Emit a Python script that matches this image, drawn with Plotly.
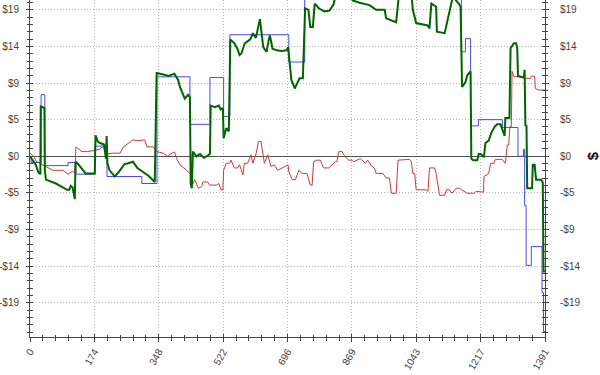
import plotly.graph_objects as go

# ---------------- data ----------------
x_max = 1391
x_tick_labels = ["0", "174", "348", "522", "696", "869", "1043", "1217", "1391"]
y_tick_values = [-18.8, -14.1, -9.4, -4.7, 0, 4.7, 9.4, 14.1, 18.8]
y_tick_labels = ["-$19", "-$14", "-$9", "-$5", "$0", "$5", "$9", "$14", "$19"]

# blue: step series (value holds until next x)
blue_x = [0, 3, 30, 40, 103, 124, 175, 208, 302, 343, 432, 486, 523, 540, 699, 742,
          1165, 1176, 1190, 1211, 1276, 1318, 1333, 1336, 1340, 1354, 1383, 1387, 1391]
blue_y = [0.0, -0.8, 7.9, -1.2, -0.8, -2.3, 1.3, -2.6, -3.5, 10.2, 4.1, 10.1, 5.1, 15.6, 12.1, 23.0,
          13.4, 15.1, 3.9, 4.7, 3.7, 0.0, 0.9, -6.3, -14.0, -11.6, -17.5, -22.5, -22.5]

green_x = [0, 8, 16, 22, 25, 28, 29, 39, 40, 43, 55, 70, 85, 100, 106, 110, 115, 119, 121, 123,
           130, 140, 150, 175, 177, 183, 189, 200, 205, 207, 209, 215, 229, 240, 255, 265, 278,
           290, 305, 320, 337, 342, 360, 375, 390, 400, 405, 415, 418, 427, 432, 434, 437, 440,
           450, 459, 470, 480, 486, 488, 500, 510, 515, 521, 523, 530, 537, 541, 552, 560, 566,
           571, 580, 595, 602, 610, 617, 621, 630, 639, 645, 648, 655, 666, 680, 693, 697, 706,
           715, 722, 728, 737, 743, 752, 757, 764, 769, 780, 795, 809, 820, 827, 870, 872, 890,
           917, 930, 935, 958, 962, 989, 996, 1030, 1034, 1043, 1074, 1079, 1084, 1097, 1099,
           1120, 1133, 1142, 1158, 1163, 1167, 1176, 1181, 1190, 1192, 1197, 1208, 1212, 1217,
           1226, 1230, 1239, 1246, 1255, 1262, 1271, 1276, 1282, 1284, 1295, 1298, 1307, 1313,
           1316, 1318, 1334, 1336, 1338, 1341, 1343, 1356, 1358, 1363, 1367, 1381, 1385, 1387, 1391]
green_y = [0.0, -0.5, -1.1, -2.0, -2.2, -2.2, 6.4, 6.2, -1.8, -3.0, -3.2, -3.5, -3.9, -4.3, -4.3,
           -3.8, -4.0, -5.5, -5.5, -0.7, -1.0, -1.6, -2.2, -2.2, 2.7, 1.9, 1.7, 1.5, -0.3, 2.6,
           -0.9, -1.8, -2.6, -2.0, -1.0, -0.9, -0.7, -1.5, -2.0, -2.5, -3.3, 10.7, 10.5, 10.3,
           10.6, 9.8, 8.9, 7.8, 7.4, 7.9, 7.6, -3.5, -4.1, 0.6, 0.0, 0.3, -0.2, 0.1, 0.3, 6.5,
           6.3, 6.5, 6.0, 6.2, 2.3, 3.6, 3.2, 15.0, 14.5, 13.8, 13.0, 13.2, 14.5, 15.0, 15.8,
           15.2, 17.0, 17.6, 14.0, 13.4, 15.0, 15.5, 13.8, 13.6, 13.5, 13.6, 14.0, 9.8, 8.7,
           9.5, 10.0, 10.0, 19.0, 18.8, 16.6, 16.6, 19.6, 19.0, 18.6, 18.7, 19.5, 21.0, 22.0,
           20.0, 19.7, 19.4, 19.0, 18.8, 18.8, 17.7, 17.2, 20.5, 21.0, 18.8, 17.1, 16.8, 16.4,
           19.6, 19.2, 16.0, 15.8, 18.8, 20.5, 19.6, 19.2, 8.9, 9.5, 10.4, 10.9, -0.3, -0.5,
           -0.5, 0.3, 0.3, -0.1, 1.7, 2.0, 3.0, 3.8, 4.1, 4.1, 3.4, 2.6, 4.9, 4.9, 13.9, 14.5,
           14.5, 13.9, 10.3, 10.1, 11.1, 4.0, 3.9, -4.1, -4.1, -1.1, -1.1, -3.0, -3.0, -3.4,
           -14.8, -14.8]

red_x = [0, 10, 18, 30, 40, 62, 89, 103, 115, 121, 124, 140, 156, 175, 189, 195, 205, 210, 224,
         243, 252, 278, 290, 310, 316, 332, 342, 360, 372, 386, 391, 396, 405, 423, 436, 437,
         445, 455, 464, 467, 480, 485, 503, 510, 516, 521, 523, 530, 539, 543, 552, 561, 566,
         575, 579, 588, 597, 602, 611, 617, 624, 633, 642, 651, 660, 669, 687, 697, 699, 708,
         717, 726, 735, 748, 757, 762, 766, 775, 784, 793, 807, 815, 825, 829, 834, 843, 850,
         861, 870, 874, 892, 906, 912, 923, 930, 935, 953, 962, 971, 976, 989, 994, 1025, 1030,
         1034, 1039, 1043, 1070, 1075, 1079, 1093, 1097, 1106, 1120, 1125, 1133, 1140, 1151,
         1160, 1166, 1181, 1199, 1205, 1225, 1226, 1239, 1244, 1253, 1257, 1275, 1284, 1289,
         1293, 1296, 1300, 1302, 1307, 1320, 1338, 1352, 1354, 1363, 1365, 1374, 1391]
red_y = [0.4, 0.0, -0.7, -1.0, -1.3, -1.8, -1.8, -2.3, -1.9, -2.2, 1.2, 0.6, 0.6, 0.8, 0.9, 1.2,
         0.8, 0.3, 0.4, 0.4, 1.2, 2.1, 2.0, 2.1, 1.2, 1.2, 0.6, 0.4, 0.0, 0.5, 0.5, -0.3, -1.1,
         -1.8, -2.4, -3.9, -3.0, -4.1, -3.9, -3.3, -3.3, -3.7, -3.7, -3.5, -4.3, -4.3, -1.8,
         -0.9, -0.9, -0.5, -1.5, -1.5, -1.1, -2.4, -0.9, -0.9, 0.2, -0.9, 0.4, 1.9, 1.9, -0.9,
         0.2, -1.3, -1.1, -1.8, -1.3, -1.1, -2.0, -3.0, -3.0, -1.8, -2.2, -2.2, -3.7, -3.7,
         -0.7, -0.5, -0.5, -1.5, -1.5, -1.1, -0.7, -0.7, 0.6, 0.6, 0.0, -0.5, -0.5, -0.7, -0.3,
         -0.9, -0.5, -1.3, -1.5, -2.2, -2.2, -2.8, -2.8, -4.75, -4.75, -0.5, -0.4, -0.7, -2.2,
         -2.2, -4.3, -4.3, -4.5, -1.5, -1.5, -2.2, -5.0, -5.0, -4.3, -4.3, -4.75, -4.1, -4.1,
         -4.3, -4.75, -4.75, -4.5, -4.6, -2.6, -2.2, -0.9, -0.9, -0.4, -0.4, -0.9, 1.45, 1.45,
         3.8, 3.8, 10.9, 10.2, 10.2, 10.0, 10.0, 10.3, 10.3, 8.7, 8.5, 8.5]

# ---------------- figure ----------------
y_range = [-23.2, 20.06]
x_tick_vals = [x_max * i / 8 for i in range(9)]
x_minor = [x_max * i / 40 for i in range(41)]
y_minor = [round(-23.5 + 0.94 * i, 2) for i in range(48)]

fig = go.Figure()
fig.add_trace(go.Scatter(x=red_x, y=red_y, mode="lines", xaxis="x", yaxis="y",
                         line=dict(color="#cc3b3b", width=1)))
fig.add_trace(go.Scatter(x=blue_x, y=blue_y, mode="lines", xaxis="x", yaxis="y2",
                         line=dict(color="#4a4ae0", width=1, shape="hv")))
fig.add_trace(go.Scatter(x=green_x, y=green_y, mode="lines", xaxis="x2", yaxis="y2",
                         line=dict(color="#006400", width=2)))

tick_font = dict(family="Liberation Sans, Arial, sans-serif", size=10, color="#444")
axis_col = "#444"
grid_col = "#b4b4b4"

fig.update_layout(
    width=600, height=375,
    margin=dict(l=30, r=55, t=0, b=38, autoexpand=False),
    paper_bgcolor="white", plot_bgcolor="white",
    showlegend=False,
    xaxis=dict(range=[0, x_max], tickmode="array", tickvals=x_tick_vals,
               ticktext=x_tick_labels, tickangle=-60, tickfont=tick_font,
               ticks="outside", ticklen=4, tickcolor=axis_col, automargin=False,
               showline=True, linecolor=axis_col, linewidth=1,
               showgrid=True, gridcolor=grid_col, griddash="1px,2px", gridwidth=1,
               zeroline=False,
               minor=dict(tickmode="array", tickvals=x_minor, ticks="outside",
                          ticklen=3, tickcolor=axis_col, showgrid=False)),
    xaxis2=dict(range=[0, x_max], overlaying="x", anchor="y", side="bottom",
                tickmode="array", tickvals=x_tick_vals, ticks="inside",
                ticklen=3, tickcolor=axis_col, showticklabels=False, automargin=False,
                showgrid=False, zeroline=False, showline=False,
                minor=dict(tickmode="array", tickvals=x_minor, ticks="inside",
                           ticklen=2, tickcolor=axis_col)),
    yaxis=dict(range=y_range, tickmode="array", tickvals=y_tick_values,
               ticktext=y_tick_labels, tickfont=tick_font, automargin=False,
               ticks="outside", ticklen=3, tickcolor=axis_col, mirror="allticks",
               ticklabelstandoff=5,
               showline=True, linecolor=axis_col, linewidth=1,
               showgrid=True, gridcolor=grid_col, griddash="1px,2px", gridwidth=1,
               zeroline=True, zerolinecolor="#555", zerolinewidth=1,
               minor=dict(tickmode="array", tickvals=y_minor, ticks="outside",
                          ticklen=2, tickcolor=axis_col, showgrid=False)),
    yaxis2=dict(range=y_range, overlaying="y", side="right", anchor="x",
                tickmode="array", tickvals=y_tick_values, ticktext=y_tick_labels,
                tickfont=tick_font, ticks="inside", ticklen=3, tickcolor=axis_col,
                ticklabelstandoff=12, mirror="allticks", automargin=False,
                showline=True, linecolor=axis_col, linewidth=1,
                showgrid=False, zeroline=False,
                minor=dict(tickmode="array", tickvals=y_minor, ticks="inside",
                           ticklen=2, tickcolor=axis_col)),
    annotations=[dict(text="<b>$</b>", xref="paper", yref="y", x=1, y=0,
                      xanchor="center", yanchor="middle", xshift=47,
                      textangle=-90, showarrow=False,
                      font=dict(family="Liberation Sans, Arial, sans-serif",
                                size=15, color="#111"))],
)

fig.write_html("out.html", config={"displayModeBar": False},
               post_script="document.body.style.margin='0px';document.body.style.overflow='hidden';")
